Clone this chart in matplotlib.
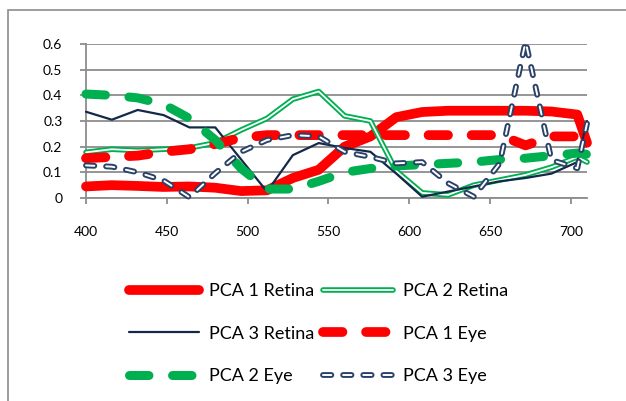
import matplotlib
matplotlib.use("Agg")
import matplotlib.pyplot as plt
from matplotlib.patches import Rectangle

plt.rcParams['font.family'] = ['Lato', 'DejaVu Sans']
plt.rcParams['lines.scale_dashes'] = False

# data (wavelength, nm)
wavelength = [400, 416, 432, 448, 464, 480, 496, 512, 528, 544, 560,
              576, 592, 608, 624, 640, 656, 672, 688, 704, 710]

pca1_retina = [0.045, 0.05, 0.047, 0.043, 0.045, 0.04, 0.027, 0.03, 0.078, 0.11, 0.20,
               0.24, 0.315, 0.335, 0.34, 0.34, 0.34, 0.34, 0.337, 0.325, 0.215]
pca2_retina = [0.178, 0.19, 0.185, 0.19, 0.195, 0.215, 0.265, 0.31, 0.385, 0.415, 0.32,
               0.30, 0.105, 0.02, 0.012, 0.05, 0.07, 0.09, 0.12, 0.16, 0.14]
pca3_retina = [0.336, 0.305, 0.343, 0.323, 0.275, 0.275, 0.15, 0.025, 0.167, 0.214, 0.195,
               0.18, 0.095, 0.005, 0.025, 0.045, 0.065, 0.078, 0.095, 0.14, 0.30]
pca1_eye = [0.155, 0.16, 0.165, 0.18, 0.19, 0.21, 0.235, 0.245, 0.245, 0.245, 0.245,
            0.245, 0.245, 0.245, 0.245, 0.245, 0.245, 0.205, 0.24, 0.24, 0.24]
pca2_eye = [0.405, 0.40, 0.39, 0.365, 0.31, 0.226, 0.115, 0.035, 0.035, 0.065, 0.10,
            0.115, 0.125, 0.13, 0.135, 0.14, 0.15, 0.155, 0.165, 0.175, 0.17]
pca3_eye = [0.127, 0.122, 0.10, 0.068, 0.003, 0.097, 0.18, 0.226, 0.245, 0.24, 0.18,
            0.16, 0.135, 0.14, 0.058, 0.005, 0.135, 0.61, 0.148, 0.116, 0.29]

x_ticks = [400, 450, 500, 550, 600, 650, 700]
y_ticks = [0, 0.1, 0.2, 0.3, 0.4, 0.5, 0.6]

RED = '#FF0000'
GREEN = '#00B050'
NAVY = '#14284A'
NAVY2 = '#2B4268'
GRID = '#8C8C8C'

fig = plt.figure(figsize=(6.26, 4.01), dpi=100)
ax = fig.add_axes([86 / 626, 1 - 198 / 401, 501 / 626, 154 / 401])

common = dict(solid_capstyle='round', solid_joinstyle='round',
              dash_capstyle='round', dash_joinstyle='round', clip_on=False)

h1, = ax.plot(wavelength, pca1_retina, color=RED, lw=7, zorder=3, **common)
h2a, = ax.plot(wavelength, pca2_retina, color=GREEN, lw=4.0, zorder=3, **common)
h2b, = ax.plot(wavelength, pca2_retina, color='white', lw=1.3, zorder=3, **common)
h3, = ax.plot(wavelength, pca3_retina, color=NAVY, lw=1.6, zorder=3, **common)
h4, = ax.plot(wavelength, pca1_eye, color=RED, lw=7, dashes=(14, 17), zorder=3, **common)
h5, = ax.plot(wavelength, pca2_eye, color=GREEN, lw=6.5, dashes=(14, 17), zorder=3, **common)
h6a, = ax.plot(wavelength, pca3_eye, color=NAVY2, lw=4.2, dashes=(6, 8.5), zorder=3, **common)
h6b, = ax.plot(wavelength, pca3_eye, color='white', lw=1.4, dashes=(6, 8.5), zorder=3, **common)

ax.set_xlim(400, 710)
ax.set_ylim(0, 0.6)
ax.set_xticks(x_ticks)
ax.set_yticks(y_ticks)
ax.set_yticklabels(['0', '0.1', '0.2', '0.3', '0.4', '0.5', '0.6'])
ax.grid(axis='y', color=GRID, lw=1.3)
ax.set_axisbelow(True)
for s in ['top', 'right']:
    ax.spines[s].set_visible(False)
for s in ['left', 'bottom']:
    ax.spines[s].set_color(GRID)
    ax.spines[s].set_linewidth(1.3)
ax.tick_params(axis='both', colors=GRID, length=4, width=1.3, labelsize=10,
               labelcolor='black')
ax.tick_params(axis='x', pad=16)
ax.tick_params(axis='y', pad=13)

# legend: 2 columns, filled column-wise
handles = [h1, h3, h5, (h2a, h2b), h4, (h6a, h6b)]
labels = ['PCA 1 Retina', 'PCA 3 Retina', 'PCA 2 Eye',
          'PCA 2 Retina', 'PCA 1 Eye', 'PCA 3 Eye']
fig.legend(handles, labels, ncol=2, loc='upper left',
           bbox_to_anchor=(129 / 626, 1 - 283 / 401), frameon=False,
           fontsize=13, handlelength=3.9, handletextpad=0.55,
           columnspacing=0.45, labelspacing=1.47, borderpad=0, borderaxespad=0)

# chart area border
fig.patches.append(Rectangle((8 / 626, -0.1), 1.2, 1 - 10 / 401 + 0.1,
                             transform=fig.transFigure, fill=False,
                             edgecolor=GRID, lw=1.2))

fig.savefig('out.png', dpi=100)
